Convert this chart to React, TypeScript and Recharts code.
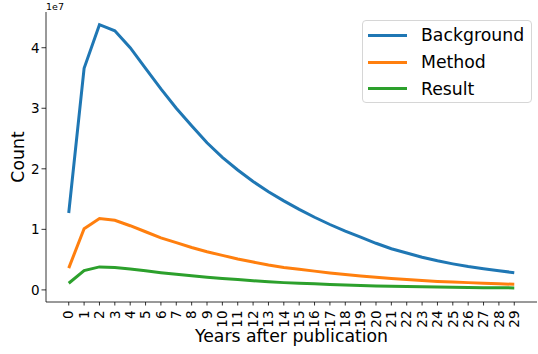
import React from "react"
import { LineChart, Line, XAxis, YAxis } from "recharts"

// years after publication (x categories)
const years = [
  0, 1, 2, 3, 4, 5, 6, 7, 8, 9, 10, 11, 12, 13, 14,
  15, 16, 17, 18, 19, 20, 21, 22, 23, 24, 25, 26, 27, 28, 29,
]

// counts (units of 1e7)
const background = [
  1.27, 3.66, 4.38, 4.28, 4.0, 3.66, 3.32, 3.0, 2.71, 2.43,
  2.19, 1.98, 1.79, 1.62, 1.47, 1.33, 1.2, 1.08, 0.97, 0.87,
  0.77, 0.68, 0.61, 0.54, 0.48, 0.43, 0.385, 0.35, 0.315, 0.285,
]
const method = [
  0.36, 1.01, 1.18, 1.15, 1.06, 0.96, 0.86, 0.78, 0.7, 0.63,
  0.57, 0.51, 0.46, 0.41, 0.37, 0.34, 0.31, 0.28, 0.255, 0.23,
  0.21, 0.19, 0.17, 0.155, 0.14, 0.13, 0.12, 0.11, 0.1, 0.093,
]
const result = [
  0.11, 0.32, 0.38, 0.37, 0.345, 0.315, 0.285, 0.26, 0.235, 0.21,
  0.19, 0.17, 0.15, 0.135, 0.12, 0.11, 0.1, 0.09, 0.08, 0.072,
  0.065, 0.06, 0.055, 0.05, 0.046, 0.043, 0.04, 0.037, 0.035, 0.033,
]

const yTicks = [0, 1, 2, 3, 4]
const SCALE = 1e7

const seriesNames = ["Background", "Method", "Result"]
const colors = ["#1f77b4", "#ff7f0e", "#2ca02c"]

const FONT = "'DejaVu Sans', sans-serif"

const rows = years.map((yr, i) => ({
  year: yr,
  Background: background[i] * SCALE,
  Method: method[i] * SCALE,
  Result: result[i] * SCALE,
}))

const XTick = (props: any) => {
  const { x, y, payload } = props
  return (
    <text
      x={x}
      y={y + 3}
      dy="0.35em"
      textAnchor="end"
      transform={`rotate(-90, ${x}, ${y + 3})`}
      fontSize={13.5}
      fontFamily={FONT}
      fill="#000"
    >
      {payload.value}
    </text>
  )
}

const LegendBox = () => (
  <div
    style={{
      position: "absolute",
      left: 362,
      top: 20,
      width: 168,
      height: 81,
      border: "1px solid #d6d6d6",
      borderRadius: 4,
      background: "rgba(255,255,255,0.8)",
      fontFamily: FONT,
      fontSize: 17.3,
      color: "#000",
    }}
  >
    {seriesNames.map((n, i) => (
      <div
        key={n}
        style={{ display: "flex", alignItems: "center", height: 26.8, marginTop: i === 0 ? 1 : 0 }}
      >
        <span
          style={{
            display: "inline-block",
            width: 39,
            height: 3,
            background: colors[i],
            marginLeft: 5,
            marginRight: 14,
          }}
        />
        {n}
      </div>
    ))}
  </div>
)

export default function App() {
  return (
    <div style={{ position: "absolute", left: 0, top: 0, width: 538, height: 354, background: "#fff" }}>
      <LineChart
        width={538}
        height={354}
        data={rows}
        margin={{ top: 12, right: 1, bottom: 0, left: 0 }}
      >
        <XAxis
          dataKey="year"
          type="number"
          domain={[-1.48, 30.48]}
          ticks={years}
          interval={0}
          allowDataOverflow
          height={52}
          tick={<XTick />}
          tickSize={3.5}
          axisLine={{ stroke: "#000", strokeWidth: 0.8 }}
          tickLine={{ stroke: "#000", strokeWidth: 0.8 }}
          label={{
            value: "Years after publication",
            position: "insideBottom",
            offset: 12,
            fontSize: 17.3,
            fontFamily: FONT,
            fill: "#000",
          }}
        />
        <XAxis
          xAxisId="top"
          orientation="top"
          dataKey="year"
          type="number"
          domain={[-1.48, 30.48]}
          height={0}
          tick={false}
          tickLine={false}
          axisLine={{ stroke: "#000", strokeWidth: 0.8 }}
        />
        <YAxis
          type="number"
          domain={[-0.2 * SCALE, 4.59 * SCALE]}
          ticks={yTicks.map((t) => t * SCALE)}
          allowDataOverflow
          width={46}
          tickSize={4.5}
          tickFormatter={(v: number) => String(v / SCALE)}
          tick={{ fontSize: 13.5, fontFamily: FONT, fill: "#000" }}
          axisLine={{ stroke: "#000", strokeWidth: 0.8 }}
          tickLine={{ stroke: "#000", strokeWidth: 0.8 }}
          label={{
            value: "Count",
            angle: -90,
            position: "insideLeft",
            offset: 18,
            fontSize: 17.3,
            fontFamily: FONT,
            fill: "#000",
            style: { textAnchor: "middle" },
          }}
        />
        <YAxis
          yAxisId="right"
          orientation="right"
          width={0}
          tick={false}
          tickLine={false}
          axisLine={{ stroke: "#000", strokeWidth: 0.8 }}
        />
        {seriesNames.map((n, i) => (
          <Line
            key={n}
            dataKey={n}
            stroke={colors[i]}
            strokeWidth={3}
            dot={false}
            activeDot={false}
            isAnimationActive={false}
          />
        ))}
      </LineChart>
      <LegendBox />
      <div
        style={{
          position: "absolute",
          left: 46,
          top: 1,
          fontFamily: FONT,
          fontSize: 9.5,
          color: "#000",
        }}
      >
        1e7
      </div>
    </div>
  )
}
